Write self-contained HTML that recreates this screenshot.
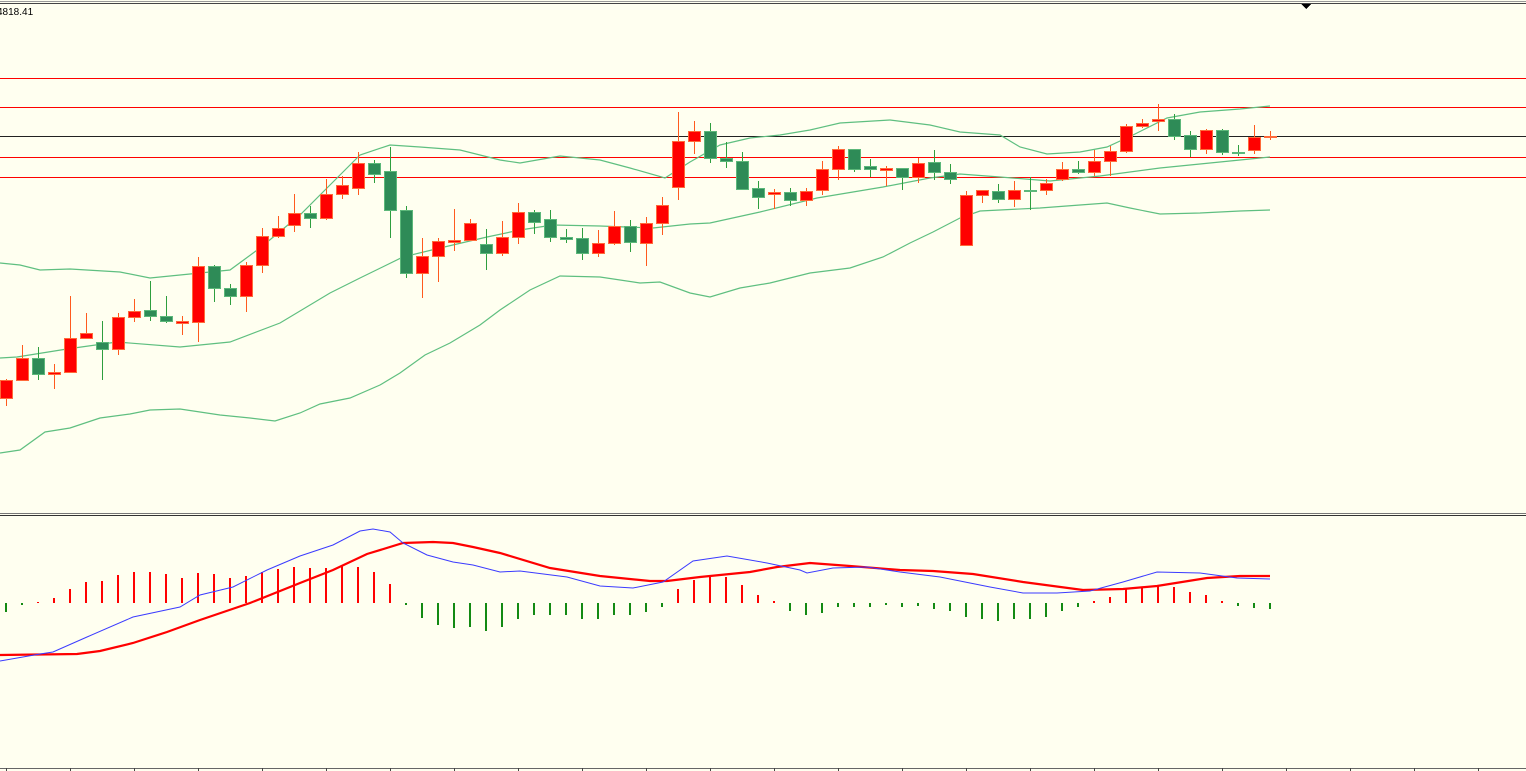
<!DOCTYPE html>
<html><head><meta charset="utf-8"><style>
html,body{margin:0;padding:0;background:#fffff0;width:1526px;height:771px;overflow:hidden}
svg{display:block}
</style></head><body>
<svg id="s" width="1526" height="771" xmlns="http://www.w3.org/2000/svg" shape-rendering="crispEdges">
<rect width="1526" height="771" fill="#fffff0"/>
<line x1="0" y1="1.5" x2="1526" y2="1.5" stroke="#999" />
<line x1="0" y1="3.5" x2="1526" y2="3.5" stroke="#444" />
<text x="-3" y="15" font-family="Liberation Sans, sans-serif" font-size="10" fill="#000">4818.41</text>
<polygon points="1301,4 1311,4 1306,9" fill="#000"/>
<line x1="0" y1="78.5" x2="1526" y2="78.5" stroke="#ff0000"/>
<line x1="0" y1="107.5" x2="1526" y2="107.5" stroke="#ff0000"/>
<line x1="0" y1="136.5" x2="1526" y2="136.5" stroke="#222"/>
<line x1="0" y1="157.5" x2="1526" y2="157.5" stroke="#ff0000"/>
<line x1="0" y1="177.5" x2="1526" y2="177.5" stroke="#ff0000"/>
<line x1="0" y1="513.5" x2="1526" y2="513.5" stroke="#777"/>
<line x1="0" y1="515.5" x2="1526" y2="515.5" stroke="#333"/>
<line x1="0" y1="768.5" x2="1526" y2="768.5" stroke="#666"/>
<g id="g"></g>
</svg>
<script>
var ns="http://www.w3.org/2000/svg",g=document.getElementById('g');
function el(t,a){var e=document.createElementNS(ns,t);for(var k in a)e.setAttribute(k,a[k]);g.appendChild(e);return e;}
function poly(pts,c,w){el('polyline',{points:pts.map(function(p){return p.join(',')}).join(' '),fill:'none',stroke:c,'stroke-width':w,'shape-rendering':'auto'});}
// bands
poly([[0,263],[20,265],[40,270],[70,269],[120,272],[150,278],[180,275],[230,270],[260,248],[300,215],[330,185],[360,155],[390,145],[420,147],[460,150],[500,160],[520,163],[560,156],[600,160],[630,168],[665,178],[690,162],[720,145],[750,138],[780,135],[810,130],[840,123],[890,120],[930,125],[960,132],[1000,135],[1020,147],[1047,154],[1080,152],[1107,147],[1133,135],[1167,118],[1200,112],[1240,109],[1270,106]],'#5fbf80',1.2);
poly([[0,358],[17,357],[67,349],[117,342],[180,347],[230,342],[280,323],[330,293],[360,278],[403,257],[440,248],[487,237],[520,230],[553,225],[600,226],[653,228],[690,224],[710,223],[760,212],[817,198],[883,187],[930,178],[960,174],[1000,177],[1050,181],[1100,176],[1160,168],[1220,162],[1270,157]],'#5fbf80',1.2);
poly([[0,453],[20,450],[45,432],[70,428],[100,418],[130,414],[150,410],[180,409],[220,415],[250,418],[275,421],[300,413],[320,404],[350,398],[380,385],[400,373],[425,355],[450,343],[480,325],[500,310],[530,290],[560,276],[600,277],[640,283],[660,282],[690,293],[710,297],[740,288],[770,283],[810,273],[850,268],[883,257],[910,243],[933,232],[960,218],[980,211],[1000,210],[1040,208],[1080,205],[1107,203],[1130,208],[1160,214],[1200,213],[1240,211],[1270,210]],'#5fbf80',1.2);
// candles: [bodyTop, bodyBot, wickTop, wickBot, isRed]
var C=[[380,398,379,406,1],[358,380,345,381,1],[358,374,347,380,0],[372,374,364,389,1],[338,372,296,372,1],[333,338,313,338,1],[342,349,321,380,0],[317,349,313,355,1],[311,317,299,322,1],[310,316,281,321,0],
[316,321,296,323,0],[321,323,316,335,1],[266,322,257,342,1],[266,288,265,302,0],[288,296,284,305,0],[265,296,262,312,1],[236,265,228,273,1],[228,236,216,238,1],[213,225,194,232,1],[213,218,206,228,0],
[194,218,179,220,1],[185,194,176,199,1],[163,188,152,195,1],[163,174,160,183,0],[171,210,147,238,0],[210,273,206,278,0],[256,273,238,298,1],[241,256,238,282,1],[240,242,209,251,1],[223,240,219,240,1],
[244,253,229,270,0],[237,253,221,256,1],[212,237,203,244,1],[212,222,210,234,0],[219,237,210,242,0],[237,239,229,243,0],[238,253,228,260,0],[243,253,230,257,1],[226,243,211,245,1],[226,242,220,252,0],
[223,243,217,266,1],[205,223,197,235,1],[141,187,112,200,1],[131,141,121,154,1],[131,158,123,163,0],[158,161,142,168,0],[161,189,152,190,0],[188,197,181,209,0],[192,194,189,209,1],[192,200,188,206,0],
[191,200,188,206,1],[169,190,161,195,1],[149,169,146,180,1],[149,169,149,172,0],[166,169,159,177,0],[168,170,166,186,1],[168,177,168,190,0],[163,177,158,183,1],[162,172,150,180,0],[172,179,164,184,0],
[195,245,191,245,1],[190,195,190,203,1],[191,199,184,203,0],[190,199,181,207,1],[190,191,177,210,0],[183,190,179,195,1],[169,179,162,181,1],[169,172,161,174,0],[161,172,150,176,1],[151,161,146,176,1],
[126,151,124,153,1],[123,126,119,128,1],[119,121,104,131,1],[119,136,114,140,0],[135,149,131,157,0],[130,149,129,154,1],[130,152,129,155,0],[152,153,145,156,0],[137,150,125,154,1],[136,137,131,140,1]];
C.forEach(function(c,i){var x=6+16*i;var red=c[4];
 el('line',{x1:x+.5,y1:c[2],x2:x+.5,y2:c[3],stroke:red?'#ff5a1e':'#2e9e3e'});
 var h=Math.max(c[1]-c[0],1);
 el('rect',{x:x-5.5,y:c[0]+.5,width:12,height:h,fill:red?'#ff0000':'#2e8b57',stroke:red?'#ff6a3a':'#5cb87a'});
});
// histogram bottom/top values (y) relative to zero 603
var H=[612,605,602,598,589,582,581,575,572,572,574,578,573,574,578,576,572,569,567,568,568,566,567,572,584,605,618,625,628,627,631,627,619,615,615,615,619,619,615,615,612,607,589,580,577,577,585,595,601,611,615,613,607,607,607,605,607,606,609,611,617,619,621,619,619,617,611,607,601,597,589,587,585,587,592,595,601,606,608,609];
H.forEach(function(v,i){var x=6+16*i;var up=v<603;
 el('rect',{x:x-1,y:up?v:603,width:2,height:Math.max(Math.abs(v-603),1),fill:up?'#ff0000':'#138a13'});});
// MACD lines
poly([[0,655],[77,654],[100,651],[133,643],[167,632],[200,620],[250,603],[300,583],[333,570],[367,554],[403,543],[433,542],[453,543],[473,547],[500,553],[550,568],[600,576],[650,581],[667,581],[700,577],[750,572],[777,567],[810,563],[850,566],[900,570],[933,571],[973,574],[1023,582],[1083,590],[1123,589],[1157,586],[1207,578],[1240,576],[1270,576]],'#ff0000',2.2);
poly([[0,661],[40,654],[53,652],[87,637],[133,617],[180,607],[200,595],[233,587],[267,570],[300,556],[333,545],[360,531],[373,529],[390,532],[403,543],[427,555],[453,562],[473,565],[500,572],[520,571],[567,577],[600,586],[633,588],[663,582],[693,561],[727,556],[767,563],[800,570],[807,573],[833,568],[867,567],[900,572],[940,577],[990,587],[1023,593],[1057,593],[1090,591],[1123,582],[1157,572],[1200,573],[1237,578],[1270,579]],'#3b3bff',1);
// time ticks
for(var x=6;x<1526;x+=64)el('line',{x1:x+.5,y1:768,x2:x+.5,y2:771,stroke:'#444'});
</script>
</body></html>
